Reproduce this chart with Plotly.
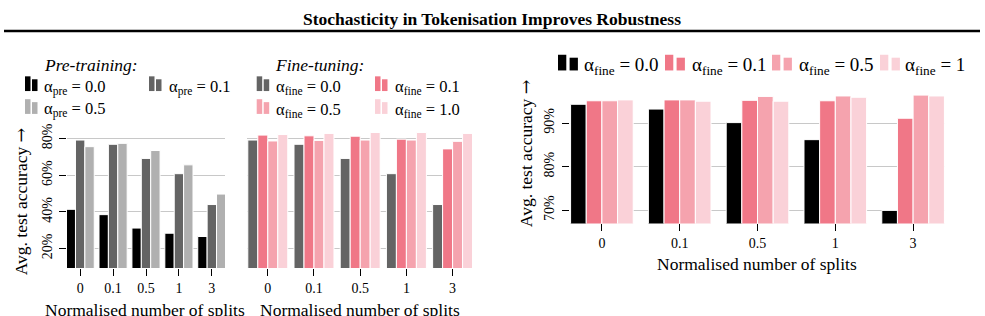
import plotly.graph_objects as go

W, H = 985, 316
FONT = "Liberation Serif"

categories = ["0", "0.1", "0.5", "1", "3"]

# Pre-training panel
pre_labels = ["0.0", "0.1", "0.5"]
pre_00 = [41.4, 38.5, 31.2, 28.4, 26.6]
pre_01 = [79.1, 76.8, 69.1, 60.8, 44.0]
pre_05 = [75.5, 77.3, 73.4, 65.6, 49.7]

# Fine-tuning panel
fine_labels = ["0.0", "0.1", "0.5", "1.0"]
fine_00 = [79.1, 76.8, 69.1, 60.8, 44.0]
fine_01 = [81.8, 81.4, 81.2, 79.6, 74.3]
fine_05 = [78.6, 78.9, 79.1, 79.1, 78.4]
fine_10 = [82.1, 82.7, 83.2, 83.2, 82.7]

# Right panel
right_labels = ["0.0", "0.1", "0.5", "1"]
right_00 = [94.3, 93.2, 90.1, 86.2, 70.0]
right_01 = [95.1, 95.3, 95.2, 95.1, 91.1]
right_05 = [95.1, 95.3, 96.1, 96.2, 96.4]
right_10 = [95.3, 95.0, 95.0, 95.9, 96.2]

left_ticks = [20, 40, 60, 80]
right_ticks = [70, 80, 90]

BLACK = "#000000"
DGRAY = "#646464"
LGRAY = "#b0b0b0"
RED = "#f07787"
MPINK = "#f5a3ae"
LPINK = "#fad1d8"


def X(px):
    return px / W


def Y(py):
    return 1 - py / H


fig = go.Figure()


def add_group(series, colors, xa, ya, frac):
    n = len(series)
    w = frac / n
    for i, (vals, col) in enumerate(zip(series, colors)):
        fig.add_trace(go.Bar(
            x=categories, y=vals, xaxis=xa, yaxis=ya,
            width=w, offset=-frac / 2 + i * w,
            marker=dict(color=col, line=dict(color="white", width=1)),
            showlegend=False,
        ))


add_group([pre_00, pre_01, pre_05], [BLACK, DGRAY, LGRAY], "x", "y", 0.855)
add_group([fine_00, fine_01, fine_05, fine_10], [DGRAY, RED, MPINK, LPINK], "x2", "y2", 0.865)
add_group([right_00, right_01, right_05, right_10], [BLACK, RED, MPINK, LPINK], "x3", "y3", 0.805)

xcommon = dict(type="category", ticks="outside", ticklen=7, tickcolor="black", tickwidth=1,
               showgrid=False, showline=False, zeroline=False,
               tickfont=dict(family=FONT, size=14, color="black"))
ycommon = dict(showline=False, zeroline=False, gridcolor="#c8c8c8", gridwidth=1,
               tickangle=-90, tickfont=dict(family=FONT, size=14, color="black"))

fig.update_layout(
    width=W, height=H, margin=dict(l=0, r=0, t=0, b=0),
    paper_bgcolor="white", plot_bgcolor="white", barmode="overlay",
    showlegend=False,
    xaxis=dict(domain=[X(67), X(225)], range=[-0.4, 4.4], anchor="y", **xcommon),
    yaxis=dict(domain=[Y(267), Y(125.6)], range=[9.5, 85], anchor="x",
               tickvals=left_ticks, ticktext=[f"{v}%" for v in left_ticks],
               ticks="outside", ticklen=7, tickcolor="black", ticklabelstandoff=1, **ycommon),
    xaxis2=dict(domain=[X(247), X(472)], range=[-0.45, 4.42], anchor="y2", **xcommon),
    yaxis2=dict(domain=[Y(267), Y(125.6)], range=[9.5, 85], anchor="x2",
                tickvals=left_ticks, showticklabels=False, ticks="", **ycommon),
    xaxis3=dict(domain=[X(570), X(945)], range=[-0.41, 4.41], anchor="y3", **xcommon),
    yaxis3=dict(domain=[Y(221.7), Y(88.15)], range=[67, 97], anchor="x3",
                tickvals=right_ticks, ticktext=[f"{v}%" for v in right_ticks],
                ticks="outside", ticklen=7, tickcolor="black", ticklabelstandoff=2, **ycommon),
)

ann = []
shapes = []


def text(px, py, s, size, xanchor="center", angle=0, **kw):
    ann.append(dict(x=X(px), y=Y(py), xref="paper", yref="paper", text=s, showarrow=False,
                    xanchor=xanchor, yanchor="middle", textangle=angle,
                    font=dict(family=FONT, size=size, color="black"), **kw))


ARROW = '<span style="font-family:DejaVu Serif">→</span>'

# Title and rule
text(492, 13, "<b>Stochasticity in Tokenisation Improves Robustness</b>", 17.5)
shapes.append(dict(type="line", xref="paper", yref="paper", x0=X(4), x1=X(980), y0=Y(25.5), y1=Y(25.5),
                   line=dict(color="black", width=2.5)))

# Axis titles
text(144.5, 310, "Normalised number of splits", 17.5)
text(360, 310, "Normalised number of splits", 17.5)
text(756.7, 263, "Normalised number of splits", 17.5)
text(21, 199, "Avg. test accuracy " + ARROW, 17.5, angle=-90)
text(526, 150, "Avg. test accuracy " + ARROW, 17.5, angle=-90)


def icon(x0, yb, color, w, gap, h1, h2):
    shapes.append(dict(type="rect", xref="paper", yref="paper", x0=X(x0), x1=X(x0 + w),
                       y0=Y(yb), y1=Y(yb - h1), fillcolor=color, line=dict(width=0)))
    shapes.append(dict(type="rect", xref="paper", yref="paper", x0=X(x0 + w + gap), x1=X(x0 + 2 * w + gap),
                       y0=Y(yb), y1=Y(yb - h2), fillcolor=color, line=dict(width=0)))


# Left legend
text(42, 60, "<i>Pre-training:</i>", 17.5, xanchor="left")
left_pos = [(25, 86.7, 42), (149, 86.7, 167), (25, 110, 42)]
for (ix, yb, tx), lab, col in zip(left_pos, pre_labels, [BLACK, DGRAY, LGRAY]):
    icon(ix, yb, col, 5.5, 1.5, 15, 12)
    text(tx, yb - 4, f"α<sub>pre</sub> = {lab}", 16.5, xanchor="left")

# Middle legend
text(273, 60, "<i>Fine-tuning:</i>", 17.5, xanchor="left")
mid_pos = [(256.7, 86.7, 274), (375, 86.7, 392.7), (256.7, 110, 274), (375, 110, 392.7)]
for (ix, yb, tx), lab, col in zip(mid_pos, fine_labels, [DGRAY, RED, MPINK, LPINK]):
    icon(ix, yb, col, 5.5, 1.5, 15, 12)
    text(tx, yb - 4, f"α<sub>fine</sub> = {lab}", 16.5, xanchor="left")

# Right legend
right_pos = [(558, 582), (665, 690), (772, 797), (880, 903)]
for (ix, tx), lab, col in zip(right_pos, right_labels, [BLACK, RED, MPINK, LPINK]):
    icon(ix, 65.7, col, 8.3, 3.3, 16, 13)
    text(tx, 61.5, f"α<sub>fine</sub> = {lab}", 19, xanchor="left")

fig.update_layout(annotations=ann, shapes=shapes)
fig.write_html("out.html")
